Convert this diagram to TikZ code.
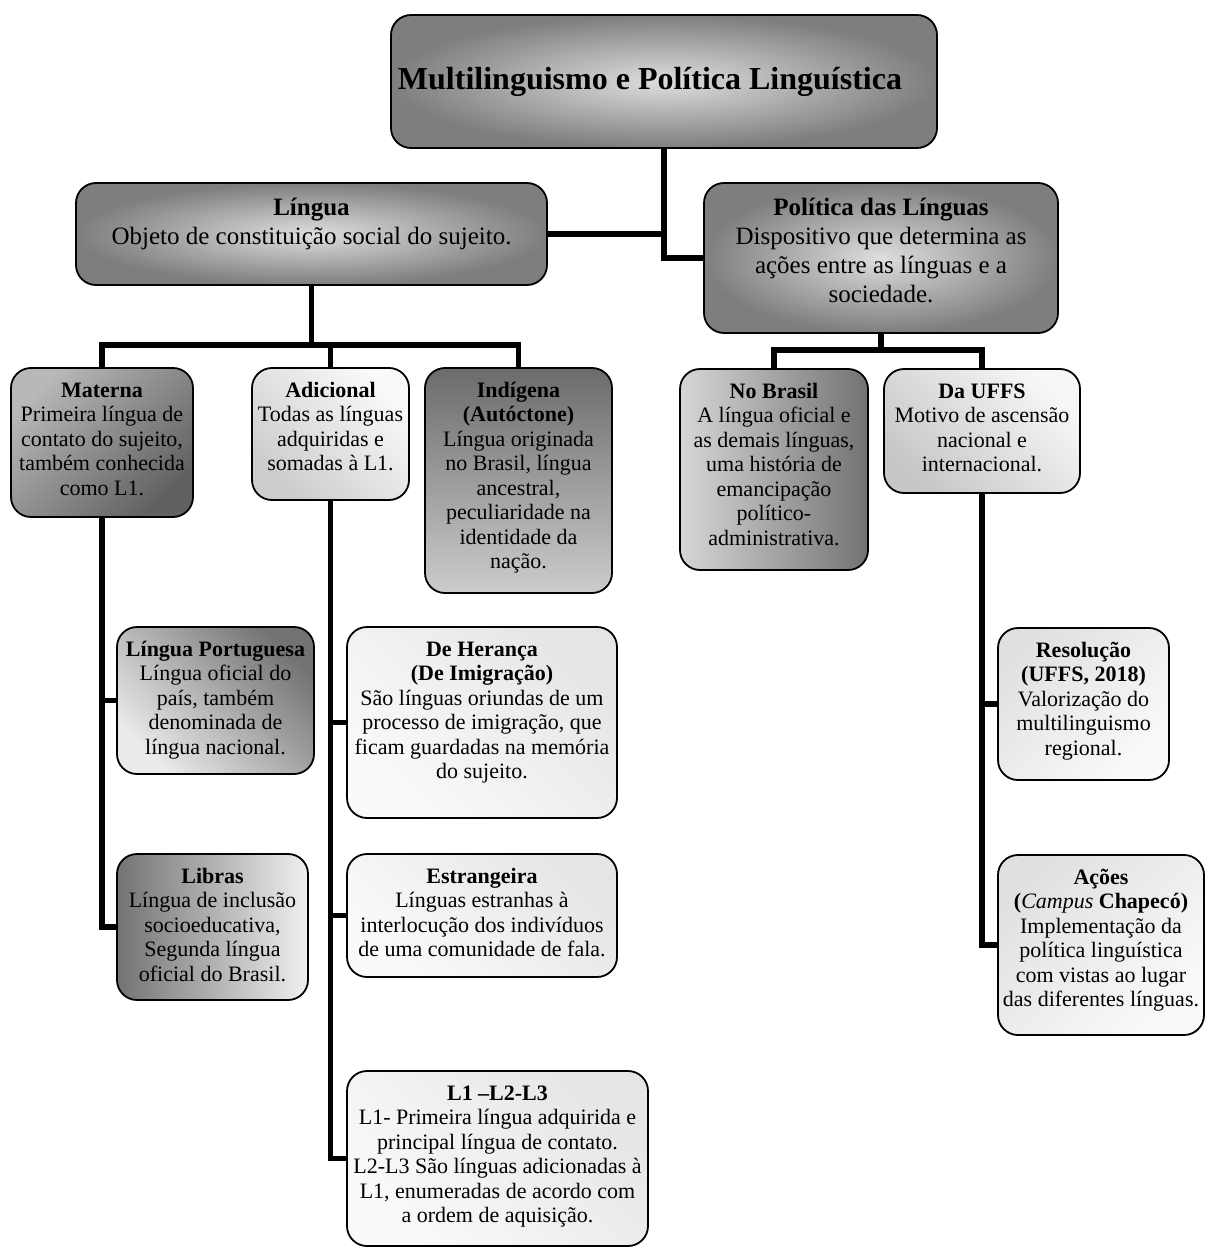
\documentclass[tikz,border=0pt]{standalone}
\usepackage{fontspec}
\setmainfont{Liberation Serif}
\usetikzlibrary{fit,backgrounds}
\definecolor{rin}{HTML}{DEDEDE}
\definecolor{rout}{HTML}{7E7E7E}
\begin{document}
\begin{tikzpicture}[x=1pt,y=-1pt,
  box/.style={draw=black, line width=1.8pt, rounded corners=20pt, inner sep=0pt, outer sep=0pt},
  conn/.style={draw=black, line width=5.6pt, line join=miter},
  txt/.style={font=\fontsize{22}{24.5}\selectfont, align=center, inner sep=0pt, anchor=north},
  bigtxt/.style={font=\fontsize{25}{29}\selectfont, align=center, inner sep=0pt, anchor=north},
  radialfill/.style={inner color=rin, outer color=rout},
  lightfill/.style={top color=black!10, bottom color=black!2, shading angle=-45}
]
\useasboundingbox (0,0) rectangle (1206,1252);

% level 0 and 1
\node[box, radialfill, fit={(391,15) (937,148)}] (top) {};
\node[font=\fontsize{32}{36}\selectfont\bfseries, inner sep=0pt] (ttop) at ([xshift=-14pt,yshift=0pt]top.center) {Multilinguismo e Política Linguística};

\node[box, radialfill, fit={(76,183) (547,285)}] (lin) {};
\node[bigtxt] (tlin) at ([yshift=-12pt]lin.north) {\strut\textbf{Língua}\\Objeto de constituição social do sujeito.};

\node[box, radialfill, fit={(704,183) (1058,333)}] (pol) {};
\node[bigtxt] (tpol) at ([yshift=-12pt]pol.north) {\strut\textbf{Política das Línguas}\\Dispositivo que determina as\\ações entre as línguas e a\\sociedade.};

% level 2 left
\node[box, top color=black!28, bottom color=black!62, shading angle=45, fit={(11,368) (193,517)}] (mat) {};
\node[txt] (tmat) at ([yshift=-12pt]mat.north) {\strut\textbf{Materna}\\Primeira língua de\\contato do sujeito,\\também conhecida\\como L1.};

\node[box, top color=black!2, bottom color=black!20, shading angle=-45, fit={(252,368) (409,500)}] (adi) {};
\node[txt] (tadi) at ([yshift=-12pt]adi.north) {\strut\textbf{Adicional}\\Todas as línguas\\adquiridas e\\somadas à L1.};

\node[box, top color=black!58, bottom color=black!20, fit={(425,368) (612,593)}] (ind) {};
\node[txt] (tind) at ([yshift=-12pt]ind.north) {\strut\textbf{Indígena}\\\textbf{(Autóctone)}\\Língua originada\\no Brasil, língua\\ancestral,\\peculiaridade na\\identidade da\\nação.};

% level 2 right
\node[box, left color=black!16, right color=black!55, fit={(680,369) (868,570)}] (nob) {};
\node[txt] (tnob) at ([yshift=-12pt]nob.north) {\strut\textbf{No Brasil}\\A língua oficial e\\as demais línguas,\\uma história de\\emancipação\\político-\\administrativa.};

\node[box, top color=black!3, bottom color=black!22, shading angle=-45, fit={(884,369) (1080,493)}] (uffs) {};
\node[txt] (tuffs) at ([yshift=-12pt]uffs.north) {\strut\textbf{Da UFFS}\\Motivo de ascensão\\nacional e\\internacional.};

% level 3 left (Materna)
\node[box, top color=black!55, bottom color=black!8, shading angle=-45, fit={(117,627) (314,774)}] (lp) {};
\node[txt] (tlp) at ([yshift=-12pt]lp.north) {\strut\textbf{Língua Portuguesa}\\Língua oficial do\\país, também\\denominada de\\língua nacional.};

\node[box, left color=black!55, right color=black!6, fit={(117,854) (308,1000)}] (lib) {};
\node[txt] (tlib) at ([yshift=-12pt]lib.north) {\strut\textbf{Libras}\\Língua de inclusão\\socioeducativa,\\Segunda língua\\oficial do Brasil.};

% level 3 (Adicional)
\node[box, lightfill, fit={(347,627) (617,818)}] (her) {};
\node[txt] (ther) at ([yshift=-12pt]her.north) {\strut\textbf{De Herança}\\\textbf{(De Imigração)}\\São línguas oriundas de um\\processo de imigração, que\\ficam guardadas na memória\\do sujeito.};

\node[box, lightfill, fit={(347,854) (617,977)}] (est) {};
\node[txt] (test) at ([yshift=-12pt]est.north) {\strut\textbf{Estrangeira}\\Línguas estranhas à\\interlocução dos indivíduos\\de uma comunidade de fala.};

\node[box, lightfill, fit={(347,1071) (648,1246)}] (lll) {};
\node[txt] (tlll) at ([yshift=-12pt]lll.north) {\strut\textbf{L1 –L2-L3}\\L1- Primeira língua adquirida e\\principal língua de contato.\\L2-L3 São línguas adicionadas à\\L1, enumeradas de acordo com\\a ordem de aquisição.};

% level 3 (UFFS)
\node[box, top color=black!12, bottom color=black!2, shading angle=45, fit={(998,628) (1169,780)}] (res) {};
\node[txt] (tres) at ([yshift=-12pt]res.north) {\strut\textbf{Resolução}\\\textbf{(UFFS, 2018)}\\Valorização do\\multilinguismo\\regional.};

\node[box, top color=black!12, bottom color=black!2, shading angle=45, fit={(998,855) (1204,1035)}] (aco) {};
\node[txt] (taco) at ([yshift=-12pt]aco.north) {\strut\textbf{Ações}\\\textbf{(}\textit{Campus}\textbf{ Chapecó)}\\Implementação da\\política linguística\\com vistas ao lugar\\das diferentes línguas.};

\coordinate (busL) at (0,345);
\coordinate (busR) at (0,350);

\begin{pgfonlayer}{background}
\draw[conn] (top.south) |- (pol.west);
\draw[conn] (lin.east) -- (lin.east -| top.south);
\draw[conn] (lin.south) -- (lin.south |- busL);
\draw[conn] (mat.north) -- (mat.north |- busL) -- (ind.north |- busL) -- (ind.north);
\draw[conn] (adi.north) -- (adi.north |- busL);
\draw[conn] (mat.south) |- (lib.west);
\draw[conn] (mat.south |- lp.west) -- (lp.west);
\draw[conn] (adi.south) |- (lll.west);
\draw[conn] (adi.south |- her.west) -- (her.west);
\draw[conn] (adi.south |- est.west) -- (est.west);
\draw[conn] (pol.south) -- (pol.south |- busR);
\draw[conn] (nob.north) -- (nob.north |- busR) -- (uffs.north |- busR) -- (uffs.north);
\draw[conn] (uffs.south) |- (aco.west);
\draw[conn] (uffs.south |- res.west) -- (res.west);
\end{pgfonlayer}
\end{tikzpicture}
\end{document}
